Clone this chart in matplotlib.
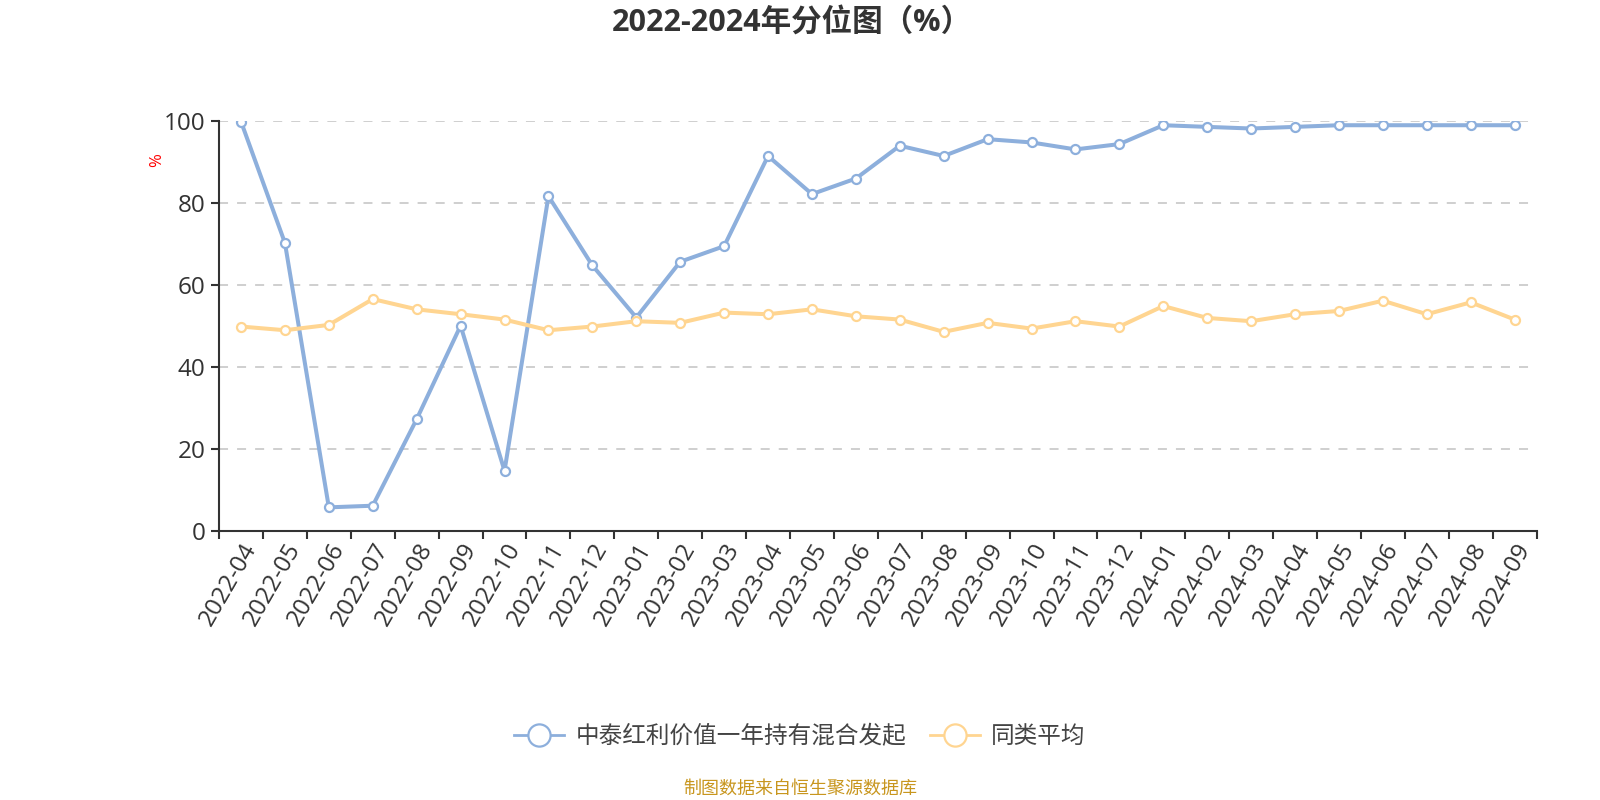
import matplotlib
matplotlib.use("Agg")
import matplotlib.pyplot as plt
from matplotlib.lines import Line2D

plt.rcParams['font.family'] = ['Open Sans', 'Noto Sans CJK SC', 'DejaVu Sans']

months = ["2022-04", "2022-05", "2022-06", "2022-07", "2022-08", "2022-09", "2022-10",
          "2022-11", "2022-12", "2023-01", "2023-02", "2023-03", "2023-04", "2023-05",
          "2023-06", "2023-07", "2023-08", "2023-09", "2023-10", "2023-11", "2023-12",
          "2024-01", "2024-02", "2024-03", "2024-04", "2024-05", "2024-06", "2024-07",
          "2024-08", "2024-09"]
fund = [99.8, 70.2, 5.7, 6.1, 27.2, 50.0, 14.6, 81.6, 64.7, 52.0, 65.6, 69.4, 91.4, 82.1,
        85.9, 93.9, 91.4, 95.5, 94.7, 93.0, 94.3, 98.9, 98.5, 98.1, 98.5, 98.9, 98.9, 98.9,
        98.9, 98.9]
peer = [49.8, 48.9, 50.2, 56.5, 54.0, 52.8, 51.5, 48.9, 49.8, 51.1, 50.7, 53.2, 52.8, 54.0,
        52.3, 51.5, 48.5, 50.7, 49.3, 51.1, 49.8, 54.8, 51.9, 51.1, 52.8, 53.6, 56.1, 52.8,
        55.7, 51.5]
fund_name = "中泰红利价值一年持有混合发起"
peer_name = "同类平均"
yticks = [0, 20, 40, 60, 80, 100]

blue = "#8DAFDC"
orange = "#FFD591"
dark = "#333333"

fig = plt.figure(figsize=(16, 8), dpi=100)
ax = fig.add_axes([0.1369, 0.3366, 0.8235, 0.5125])

x = list(range(len(months)))
ax.plot(x, fund, color=blue, lw=2.9, marker='o', ms=6.5, mfc='white', mec=blue, mew=1.6, zorder=3)
ax.plot(x, peer, color=orange, lw=2.9, marker='o', ms=6.5, mfc='white', mec=orange, mew=1.6, zorder=3)

ax.set_xlim(-0.5, len(months) - 0.5)
ax.set_ylim(0, 100)
ax.set_yticks(yticks)
ax.set_yticklabels([str(v) for v in yticks], fontsize=17.5, color=dark)
for v in yticks[1:]:
    ax.axhline(v, color='#cccccc', lw=1.3, ls=(0, (5, 5)), zorder=1)

ax.set_xticks([i - 0.5 for i in range(len(months) + 1)], minor=False)
ax.set_xticklabels([])
ax.set_xticks(x, minor=True)
ax.set_xticklabels(months, minor=True, rotation=60, ha='right', va='top',
                   rotation_mode='anchor', fontsize=17.5, color=dark)
ax.tick_params(axis='x', which='minor', length=0, pad=6)
ax.tick_params(axis='x', which='major', length=6, width=1.5, color=dark)
ax.tick_params(axis='y', length=6, width=1.5, color=dark, pad=4)

for s in ['top', 'right']:
    ax.spines[s].set_visible(False)
for s in ['left', 'bottom']:
    ax.spines[s].set_color(dark)
    ax.spines[s].set_linewidth(1.5)

fig.text(0.098, 0.80, "%", color='red', rotation=90, fontsize=12, ha='center', va='center')

fig.text(0.495, 0.972, "2022-2024年分位图（%）", fontsize=22, fontweight='bold',
         color=dark, ha='center', va='center')

handles = [Line2D([0], [0], color=blue, lw=2, marker='o', ms=16, mfc='white', mec=blue, mew=1.6),
           Line2D([0], [0], color=orange, lw=2, marker='o', ms=16, mfc='white', mec=orange, mew=1.6)]
fig.legend(handles, [fund_name, peer_name], loc='center', bbox_to_anchor=(0.5, 0.079),
           ncol=2, frameon=False, fontsize=17, handlelength=2.1, columnspacing=1.0,
           handletextpad=0.5, labelcolor='#444444')

fig.text(0.5, 0.014, "制图数据来自恒生聚源数据库", fontsize=13, color='#C8961E',
         ha='center', va='center')

fig.savefig("out.png", dpi=100, facecolor='white')
